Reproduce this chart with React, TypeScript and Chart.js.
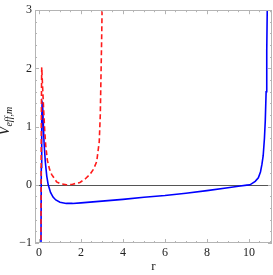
import React, { useEffect, useRef } from "react";
import { Chart, registerables } from "chart.js";

Chart.register(...registerables);

const blueR = [0.09, 0.11, 0.13, 0.15, 0.17, 0.2, 0.24, 0.3, 0.37, 0.44, 0.55, 0.67, 0.8, 1.0, 1.3, 1.6, 2.0, 3.0, 4.0, 5.0, 6.0, 7.0, 8.0, 9.0, 9.5, 9.9, 10.05, 10.3, 10.45, 10.55, 10.62, 10.68, 10.74, 10.78, 10.82, 10.85, 10.88];
const blueV = [-1.5, 0.3, 1.1, 1.42, 1.4, 1.1, 0.74, 0.4, 0.15, 0.0, -0.13, -0.21, -0.26, -0.3, -0.32, -0.32, -0.31, -0.28, -0.25, -0.215, -0.185, -0.145, -0.1, -0.05, -0.025, -0.005, 0.0, 0.06, 0.12, 0.22, 0.35, 0.5, 0.8, 1.1, 1.6, 2.3, 3.2];

const redR = [0.09, 0.105, 0.12, 0.13, 0.17, 0.22, 0.27, 0.32, 0.4, 0.5, 0.6, 0.84, 1.0, 1.3, 1.6, 1.95, 2.2, 2.43, 2.6, 2.75, 2.87, 2.92, 2.95, 2.98, 3.01];
const redV = [-1.5, 0.5, 1.6, 2.02, 1.7, 1.3, 0.95, 0.68, 0.42, 0.27, 0.18, 0.05, 0.02, 0.0, 0.01, 0.04, 0.1, 0.18, 0.27, 0.4, 0.74, 1.2, 1.8, 2.4, 3.1];

const xTicks = [0, 2, 4, 6, 8, 10];
const yTicks = [-1, 0, 1, 2, 3];
const xMin = -0.19;
const xMax = 11.1;
const yMin = -1;
const yMax = 3;

const framePlugin = {
  id: "frame",
  beforeDatasetsDraw(chart: any) {
    const { ctx, chartArea, scales } = chart;
    const y0 = scales.y.getPixelForValue(0);
    ctx.save();
    ctx.strokeStyle = "#555555";
    ctx.lineWidth = 1;
    ctx.beginPath();
    ctx.moveTo(chartArea.left, Math.round(y0) + 0.5);
    ctx.lineTo(chartArea.right, Math.round(y0) + 0.5);
    ctx.stroke();
    ctx.restore();
  },
  afterDatasetsDraw(chart: any) {
    const { ctx, chartArea, scales } = chart;
    const { left, right, top, bottom } = chartArea;
    ctx.save();
    ctx.strokeStyle = "#b4b4b4";
    ctx.lineWidth = 1;
    ctx.strokeRect(Math.round(left) + 0.5, Math.round(top) + 0.5, Math.round(right - left) - 1, Math.round(bottom - top) - 1);
    ctx.beginPath();
    for (let i = 0; i <= 22; i++) {
      const v = i * 0.5;
      const px = Math.round(scales.x.getPixelForValue(v)) + 0.5;
      if (px < left || px > right) continue;
      const len = v % 2 === 0 ? 4 : 2;
      ctx.moveTo(px, bottom);
      ctx.lineTo(px, bottom - len);
      ctx.moveTo(px, top);
      ctx.lineTo(px, top + len);
    }
    for (let i = 0; i <= 20; i++) {
      const v = yMin + i * 0.2;
      const py = Math.round(scales.y.getPixelForValue(v)) + 0.5;
      const len = i % 5 === 0 ? 4 : 2;
      ctx.moveTo(left, py);
      ctx.lineTo(left + len, py);
      ctx.moveTo(right, py);
      ctx.lineTo(right - len, py);
    }
    ctx.stroke();
    ctx.restore();
  },
  afterDraw(chart: any) {
    const { ctx, chartArea } = chart;
    ctx.save();
    ctx.fillStyle = "#222222";
    ctx.font = "13px 'Liberation Serif'";
    ctx.textAlign = "center";
    ctx.textBaseline = "alphabetic";
    ctx.fillText("r", (chartArea.left + chartArea.right) / 2, 270);
    ctx.translate(9, 121);
    ctx.rotate(-Math.PI / 2);
    const mainFont = "italic 14px 'Liberation Serif'";
    const subFont = "italic 10px 'Liberation Serif'";
    ctx.font = mainFont;
    const wV = ctx.measureText("V").width;
    ctx.font = subFont;
    const wS = ctx.measureText("eff,m").width;
    const total = wV + wS;
    ctx.textAlign = "left";
    ctx.font = mainFont;
    ctx.fillText("V", -total / 2, 0);
    ctx.font = subFont;
    ctx.fillText("eff,m", -total / 2 + wV, 2.5);
    ctx.restore();
  },
};

export default function App() {
  const ref = useRef<HTMLCanvasElement | null>(null);
  useEffect(() => {
    if (!ref.current) return;
    const chart = new Chart(ref.current, {
      type: "scatter",
      data: {
        datasets: [
          {
            label: "red",
            data: redR.map((r, i) => ({ x: r, y: redV[i] })),
            showLine: true,
            borderColor: "#ff1a1a",
            borderWidth: 1.6,
            borderDash: [5, 3],
            pointRadius: 0,
            tension: 0,
            order: 1,
          },
          {
            label: "blue",
            data: blueR.map((r, i) => ({ x: r, y: blueV[i] })),
            showLine: true,
            borderColor: "#0000ff",
            borderWidth: 1.6,
            pointRadius: 0,
            tension: 0,
            order: 2,
          },
        ],
      },
      options: {
        animation: false,
        responsive: false,
        maintainAspectRatio: false,
        layout: { padding: { top: 6, right: 1, left: 0, bottom: 0 } },
        plugins: { legend: { display: false }, tooltip: { enabled: false } },
        scales: {
          x: {
            type: "linear",
            min: xMin,
            max: xMax,
            grid: { display: false, drawTicks: false },
            border: { display: false },
            afterBuildTicks: (s: any) => {
              s.ticks = xTicks.map((v) => ({ value: v }));
            },
            afterFit: (s: any) => {
              s.height = 32;
            },
            ticks: {
              autoSkip: false,
              maxRotation: 0,
              padding: 3,
              color: "#222222",
              font: { family: "'Liberation Serif'", size: 12 },
              callback: (v: any) => String(v),
            },
          },
          y: {
            type: "linear",
            min: yMin,
            max: yMax,
            grid: { display: false, drawTicks: false },
            border: { display: false },
            afterBuildTicks: (s: any) => {
              s.ticks = yTicks.map((v) => ({ value: v }));
            },
            afterFit: (s: any) => {
              s.width = 35;
            },
            ticks: {
              autoSkip: false,
              padding: 3,
              color: "#222222",
              font: { family: "'Liberation Serif'", size: 12 },
              callback: (v: any) => (v < 0 ? "\u2212" + Math.abs(v) : String(v)),
            },
          },
        },
      },
      plugins: [framePlugin],
    });
    return () => chart.destroy();
  }, []);
  return (
    <div style={{ position: "fixed", left: 0, top: 0, width: 273, height: 275, background: "#fff" }}>
      <canvas ref={ref} width={273} height={275} style={{ display: "block", width: 273, height: 275 }} />
    </div>
  );
}
